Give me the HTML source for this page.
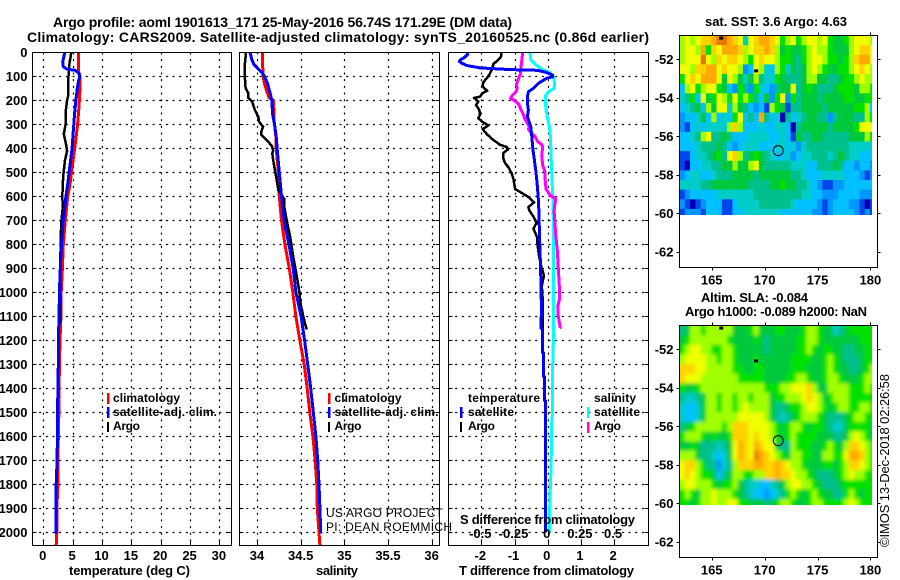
<!DOCTYPE html>
<html>
<head>
<meta charset="utf-8">
<title>Argo profile</title>
<style>
html,body{margin:0;padding:0;background:#fff;}
svg{display:block;}
text{font-family:"Liberation Sans",sans-serif;fill:#000;}
.b{font-weight:bold;font-size:13px;}
.l{font-weight:bold;font-size:12px;}
.t{font-size:12px;font-weight:normal;}
</style>
</head>
<body>
<svg id="chart" width="900" height="580" viewBox="0 0 900 580" xmlns="http://www.w3.org/2000/svg">
<defs>
<clipPath id="clip-sla"><rect x="680" y="326" width="192" height="179"/></clipPath>
<clipPath id="clip-sst"><rect x="680" y="36" width="192" height="179"/></clipPath>
<filter id="soft" filterUnits="userSpaceOnUse" x="650" y="300" width="250" height="230"><feGaussianBlur stdDeviation="1.8"/></filter>
</defs>
<rect x="0" y="0" width="900" height="580" fill="#fff"/>
<g id="grids"></g>
<g id="series"></g>
<g id="maps"></g>
<g id="frames"></g>
<g id="labels"></g>

<text class="b" x="53" y="27" textLength="459" lengthAdjust="spacing" style="font-size:14px">Argo profile: aoml 1901613_171 25-May-2016 56.74S 171.29E (DM data)</text>
<text class="b" x="27" y="42" textLength="622" lengthAdjust="spacing" style="font-size:14px">Climatology: CARS2009. Satellite-adjusted climatology: synTS_20160525.nc (0.86d earlier)</text>

<text class="b" x="69" y="575" textLength="121" lengthAdjust="spacing">temperature (deg C)</text>
<text class="b" x="316" y="575" textLength="42" lengthAdjust="spacing">salinity</text>
<text class="b" x="459" y="575" textLength="175" lengthAdjust="spacing">T difference from climatology</text>
<text class="b" x="460" y="524" textLength="175" lengthAdjust="spacing">S difference from climatology</text>

<g>
<rect x="107" y="393" width="2.5" height="11" fill="#f00"/>
<rect x="107" y="407" width="2.5" height="11" fill="#00f"/>
<rect x="107" y="422" width="2" height="10" fill="#000"/>
<text class="l" x="113" y="402" textLength="67" lengthAdjust="spacing">climatology</text>
<text class="l" x="113" y="416" textLength="104" lengthAdjust="spacing">satellite-adj. clim.</text>
<text class="l" x="113" y="430" textLength="27" lengthAdjust="spacing">Argo</text>
</g>
<g>
<rect x="328" y="393" width="2.5" height="11" fill="#f00"/>
<rect x="328" y="407" width="2.5" height="11" fill="#00f"/>
<rect x="328" y="422" width="2" height="10" fill="#000"/>
<text class="l" x="334.5" y="402" textLength="67" lengthAdjust="spacing">climatology</text>
<text class="l" x="334.5" y="416" textLength="104" lengthAdjust="spacing">satellite-adj. clim.</text>
<text class="l" x="334.5" y="430" textLength="27" lengthAdjust="spacing">Argo</text>
</g>
<g>
<text class="l" x="468" y="402" textLength="72" lengthAdjust="spacing">temperature</text>
<rect x="460" y="407" width="2.5" height="11" fill="#00f"/>
<text class="l" x="468" y="416" textLength="46" lengthAdjust="spacing">satellite</text>
<rect x="460" y="422" width="2" height="10" fill="#000"/>
<text class="l" x="468" y="430" textLength="27" lengthAdjust="spacing">Argo</text>
<text class="l" x="594" y="402" textLength="42" lengthAdjust="spacing">salinity</text>
<rect x="587" y="407" width="2.5" height="11" fill="#0ff"/>
<text class="l" x="594" y="416" textLength="46" lengthAdjust="spacing">satellite</text>
<rect x="587" y="422" width="2.5" height="11" fill="#f0f"/>
<text class="l" x="594" y="430" textLength="27" lengthAdjust="spacing">Argo</text>
</g>

<text class="t" x="326" y="517" textLength="117" lengthAdjust="spacing">US ARGO PROJECT</text>
<text class="t" x="326" y="531" textLength="126" lengthAdjust="spacing">PI: DEAN ROEMMICH</text>

<text class="b" x="705" y="26" textLength="142" lengthAdjust="spacing">sat. SST: 3.6 Argo: 4.63</text>
<text class="b" x="701" y="302" textLength="107" lengthAdjust="spacing">Altim. SLA: -0.084</text>
<text class="b" x="685" y="316" textLength="182" lengthAdjust="spacing">Argo h1000: -0.089 h2000: NaN</text>
<text class="t" style="font-size:13px" transform="translate(889,547) rotate(-90)" textLength="173" lengthAdjust="spacing">©IMOS 13-Dec-2018 02:26:58</text>
</svg>

<script>
// ---------- axis ticks ----------
const depthTicks = [0,100,200,300,400,500,600,700,800,900,1000,1100,1200,1300,1400,1500,1600,1700,1800,1900,2000];
const tempTicks = [0,5,10,15,20,25,30];
const salTicks = [34,34.5,35,35.5,36];
const salTickLabels = ["34","34.5","35","35.5","36"];
const tDiffTicks = [-2,-1,0,1,2];
const sDiffTicks = [-0.5,-0.25,0,0.25,0.5];
const sDiffTickLabels = ["-0.5","-0.25","0","0.25","0.5"];
const lonTicks = [165,170,175,180];
const latTicks = [-52,-54,-56,-58,-60,-62];

// ---------- temperature profiles: [depth, deg C] ----------
const tempClim = [[0,6.0],[80,6.0],[100,6.25],[150,6.25],[220,6.1],[300,5.85],[350,5.6],[400,5.35],[500,4.8],[550,4.55],[600,4.15],[700,3.75],[800,3.4],[900,3.25],[1000,3.05],[1100,3.0],[1200,2.85],[1300,2.75],[1400,2.7],[1500,2.65],[1600,2.55],[1700,2.5],[1800,2.5],[1900,2.3],[2000,2.3],[2055,2.2]];
const tempArgo = [[0,4.75],[20,4.65],[40,4.5],[70,4.35],[100,4.3],[150,4.2],[175,4.3],[200,4.05],[250,3.8],[300,3.8],[340,3.5],[380,3.85],[410,4.05],[450,3.7],[500,3.45],[550,3.3],[600,3.25],[650,3.3],[700,3.1],[750,3.0],[800,2.95],[1000,2.85],[1100,2.9],[1125,2.9]];
const tempSat = [[0,3.65],[20,3.5],[40,3.3],[60,3.4],[70,4.0],[75,5.4],[85,6.0],[100,6.2],[120,6.0],[150,5.8],[200,5.55],[250,5.35],[300,5.2],[350,5.05],[400,4.9],[450,4.65],[500,4.4],[550,4.15],[600,3.85],[650,3.65],[700,3.4],[800,3.1],[900,2.9],[1000,2.75],[1100,2.7],[1200,2.55],[1300,2.55],[1400,2.5],[1500,2.4],[1600,2.4],[1700,2.35],[1800,2.2],[1900,2.15],[2005,2.15]];

// ---------- salinity profiles: [depth, psu] ----------
const salClim = [[0,34.065],[60,34.065],[100,34.07],[130,34.085],[160,34.11],[190,34.14],[200,34.19],[280,34.195],[350,34.215],[400,34.22],[500,34.245],[600,34.255],[700,34.28],[800,34.32],[900,34.37],[1000,34.41],[1100,34.445],[1200,34.49],[1300,34.54],[1400,34.575],[1500,34.605],[1600,34.64],[1700,34.665],[1800,34.685],[1900,34.69],[2000,34.71],[2055,34.72]];
const salArgo = [[0,33.875],[50,33.86],[100,33.86],[150,33.87],[170,33.9],[190,33.9],[205,33.945],[240,33.975],[270,34.015],[290,34.025],[310,34.07],[330,34.05],[345,34.05],[365,34.11],[390,34.17],[410,34.185],[420,34.175],[450,34.185],[490,34.205],[530,34.225],[575,34.245],[610,34.31],[640,34.31],[700,34.34],[770,34.38],[850,34.415],[930,34.455],[1000,34.485],[1050,34.5],[1100,34.53],[1130,34.55],[1155,34.57]];
const salSat = [[0,33.92],[30,33.94],[50,33.965],[70,34.015],[85,34.06],[100,34.085],[130,34.12],[170,34.15],[200,34.17],[260,34.18],[300,34.2],[350,34.22],[400,34.23],[500,34.255],[600,34.28],[700,34.31],[800,34.365],[900,34.415],[1000,34.445],[1100,34.505],[1200,34.545],[1300,34.58],[1400,34.615],[1500,34.645],[1600,34.675],[1700,34.695],[1800,34.71],[1900,34.72],[2005,34.73]];

// ---------- difference profiles: [depth, difference] ----------
const diffTArgo = [[0,-1.39],[20,-1.41],[35,-1.52],[50,-1.64],[75,-1.69],[100,-1.79],[125,-1.94],[140,-1.96],[150,-1.91],[160,-1.82],[170,-1.96],[185,-2.04],[190,-2.22],[205,-2.09],[220,-2.16],[240,-2.06],[260,-2.04],[275,-2.09],[290,-1.96],[305,-1.79],[320,-1.96],[340,-1.84],[360,-1.69],[385,-1.44],[395,-1.23],[405,-1.2],[420,-1.34],[440,-1.34],[460,-1.29],[480,-1.18],[505,-1.08],[530,-1.03],[570,-0.98],[600,-0.61],[625,-0.41],[645,-0.58],[660,-0.55],[685,-0.43],[710,-0.33],[735,-0.43],[750,-0.38],[775,-0.31],[800,-0.31],[850,-0.26],[900,-0.18],[930,-0.11],[955,-0.15],[975,-0.18],[1000,-0.16],[1050,-0.15],[1149,-0.15]];
const diffTSat = [[0,-2.41],[10,-2.42],[20,-2.49],[32,-2.64],[38,-2.66],[45,-2.59],[55,-2.44],[65,-2.04],[72,-1.13],[75,-0.33],[82,-0.08],[90,0.07],[95,0.15],[102,0.15],[108,-0.03],[129,-0.28],[150,-0.43],[164,-0.58],[185,-0.61],[212,-0.61],[240,-0.58],[268,-0.61],[310,-0.51],[351,-0.48],[400,-0.45],[449,-0.4],[504,-0.35],[560,-0.31],[615,-0.28],[685,-0.26],[754,-0.25],[837,-0.23],[921,-0.21],[1060,-0.19],[1150,-0.2],[1151,-0.16],[1250,-0.16],[1251,-0.13],[1350,-0.13],[1351,-0.1],[1450,-0.1],[1451,-0.07],[2000,-0.07]];
const diffSSat = [[0,-0.133],[30,-0.128],[50,-0.095],[70,-0.045],[85,0.018],[100,0.043],[130,0.053],[150,0.048],[165,0.005],[180,-0.015],[205,-0.018],[240,-0.013],[270,-0.003],[310,0.013],[350,0.02],[420,0.025],[500,0.03],[600,0.038],[700,0.043],[800,0.045],[1100,0.045],[1200,0.043],[1300,0.038],[1500,0.038],[1540,0.03],[1650,0.03],[1700,0.025],[1750,0.025],[1800,0.02],[1900,0.015],[2000,0.015]];
const diffSArgo = [[0,-0.188],[30,-0.194],[60,-0.2],[90,-0.205],[110,-0.22],[135,-0.235],[150,-0.23],[165,-0.239],[178,-0.264],[192,-0.279],[200,-0.254],[215,-0.22],[240,-0.2],[260,-0.183],[280,-0.17],[295,-0.153],[310,-0.138],[320,-0.145],[335,-0.128],[350,-0.095],[370,-0.078],[385,-0.045],[395,-0.038],[430,-0.045],[470,-0.038],[500,-0.02],[540,-0.018],[570,-0.013],[595,0.018],[610,0.06],[630,0.055],[660,0.048],[700,0.053],[760,0.06],[830,0.073],[900,0.08],[980,0.088],[1030,0.088],[1060,0.075],[1100,0.08],[1145,0.093],[1150,0.088]];

// ---------- maps: colour level per 0.5 deg cell, north to south ----------
const sstLevels = [
[8,9,8,9,10,10,11,12,12,11,10,9,4,9,10,11,11,10,9,7,8,9,7,8,9,9,8,9,7,6,6,7,8,9,9,9,8],
[8,9,9,8,11,7,10,9,11,11,11,10,8,9,10,10,11,10,8,6,7,6,6,7,8,9,8,8,7,6,6,6,8,9,10,10,9],
[8,9,9,9,12,9,8,10,9,10,10,9,8,7,9,10,9,9,8,7,7,6,5,7,8,9,9,8,7,7,6,7,8,10,11,11,9],
[9,9,8,10,10,11,11,9,10,9,9,8,2,3,9,8,4,3,8,7,4,6,5,6,8,9,8,7,6,6,7,7,8,9,10,9,8],
[7,9,10,9,11,11,11,9,6,9,8,6,4,6,8,5,4,4,7,6,5,5,5,6,8,8,6,6,5,5,6,7,7,8,9,8,8],
[3,8,9,7,8,9,9,7,6,3,2,7,5,2,7,4,3,2,5,6,6,9,5,6,7,6,5,5,5,6,7,7,7,6,8,8,7],
[4,5,7,3,9,6,7,9,8,7,9,7,8,7,5,3,6,2,7,9,2,7,5,6,6,6,5,6,6,6,6,7,7,6,6,7,7],
[3,4,5,6,3,8,6,9,9,4,8,6,5,3,2,3,1,8,7,6,1,5,5,6,6,6,6,5,6,6,6,6,6,7,7,8,3],
[2,3,3,4,6,3,8,3,4,3,7,9,3,5,3,11,5,3,4,0,5,3,4,5,6,6,5,5,2,5,6,6,6,5,5,8,7],
[2,1,3,4,3,4,4,4,4,8,10,8,3,3,3,4,3,3,4,4,3,0,5,6,6,6,6,6,5,6,6,6,6,7,9,9,9],
[3,3,4,5,8,9,5,5,6,5,3,3,3,4,4,4,4,3,3,4,3,1,6,5,5,6,6,5,5,5,5,5,6,6,6,8,7],
[3,3,3,4,5,5,5,6,5,3,2,3,4,4,4,3,3,3,4,4,3,4,2,4,5,5,5,5,5,5,5,5,4,4,4,4,4],
[1,1,3,4,4,5,6,7,5,9,10,8,5,6,7,6,5,4,3,3,4,2,3,4,4,5,5,5,4,5,6,5,4,4,3,3,3],
[1,0,3,3,4,4,5,5,6,6,8,6,6,8,9,6,5,5,5,5,5,4,4,4,3,3,5,5,5,6,5,3,3,2,3,3,2],
[2,3,4,4,3,3,4,5,5,5,6,6,6,6,5,6,6,6,6,6,6,5,5,4,3,3,3,4,4,4,4,3,3,3,2,1,2],
[4,4,4,4,5,5,6,6,6,6,6,6,6,5,5,5,5,6,6,7,6,6,5,5,4,3,2,1,1,2,2,3,3,3,3,3,3],
[1,2,3,3,3,3,3,4,4,4,4,4,4,4,5,5,5,5,5,5,5,5,5,4,4,3,3,2,2,2,3,3,3,3,2,2,2],
[2,1,0,1,2,3,3,3,1,1,3,4,4,4,4,5,5,5,5,5,5,4,3,3,3,3,2,1,2,3,3,3,2,2,1,0,1],
[1,2,2,2,1,3,3,3,1,1,3,3,4,4,4,4,4,4,4,3,3,3,3,3,3,2,2,1,2,3,3,3,3,2,1,2,1]
];
const slaLevels = [
[5,6,8,8,7,8,8,8,8,8,6,6,6,7,8,6,6,6,7,7,6,6,6,7,8,8,7,6,6,4,5,6,7,7,7,7,7],
[6,7,8,8,8,8,8,8,8,7,6,6,6,6,7,6,5,6,6,6,6,6,7,7,8,8,7,6,6,6,6,6,6,6,7,7,7],
[7,8,9,9,8,8,7,7,8,8,7,6,6,6,6,6,5,6,6,6,6,6,7,7,8,7,6,7,7,6,6,5,5,6,6,7,7],
[8,9,9,9,9,8,8,7,8,8,7,6,6,6,7,6,6,6,6,6,6,7,7,7,7,6,6,7,8,7,6,5,5,5,6,7,7],
[10,10,10,9,9,8,8,8,8,8,7,7,6,6,7,7,6,6,6,6,6,7,7,7,6,6,6,7,8,7,6,6,5,5,6,7,8],
[10,9,9,9,8,8,8,8,8,8,8,7,7,7,7,7,6,6,6,6,7,7,8,8,7,6,6,7,8,8,7,6,6,6,7,8,8],
[7,6,6,7,8,8,8,8,8,8,8,8,8,8,8,8,7,7,7,8,8,9,9,9,10,8,6,6,8,8,8,8,7,7,7,8,7],
[5,4,4,5,6,8,8,7,8,8,7,8,8,7,8,8,8,6,7,7,8,8,8,9,10,9,8,6,7,8,8,8,7,7,7,7,7],
[4,3,3,4,6,8,8,7,8,8,7,8,9,8,8,8,8,6,5,5,6,7,7,8,9,9,8,7,6,7,8,8,7,7,8,8,7],
[4,3,3,4,6,8,8,8,8,8,8,9,9,9,9,9,8,6,5,4,5,6,7,8,8,8,7,6,5,5,5,6,7,8,8,7,7],
[5,6,7,8,8,8,8,8,7,8,10,10,10,9,9,9,9,8,7,6,7,8,8,7,6,7,7,6,5,4,4,6,7,7,7,7,6],
[7,8,8,8,7,6,7,6,6,7,10,10,10,9,10,9,9,8,7,6,7,8,7,7,7,7,6,6,6,5,5,6,8,9,8,7,6],
[6,6,7,6,5,5,5,4,5,6,9,11,10,9,11,10,9,9,6,5,5,8,7,7,7,6,6,7,8,7,6,8,10,10,9,8,7],
[8,8,8,6,5,5,4,3,4,6,9,11,10,9,12,11,10,9,8,7,6,8,8,7,7,6,6,8,8,7,7,9,11,11,10,8,7],
[9,10,10,8,7,5,5,2,4,5,8,10,10,10,11,11,10,10,11,10,9,8,8,7,6,6,6,7,7,6,7,8,10,10,9,8,7],
[9,10,9,8,7,7,6,3,5,6,8,8,7,7,8,8,10,10,11,10,10,9,8,8,7,6,5,5,5,6,7,8,9,8,8,7,7],
[8,9,9,8,8,8,7,6,7,7,8,6,5,4,4,3,3,4,5,6,8,9,9,8,8,7,6,5,5,5,6,7,7,7,7,7,7],
[7,8,7,6,8,8,9,8,8,8,7,6,5,4,3,3,2,3,4,5,7,8,7,6,7,8,7,6,6,5,5,7,8,7,6,7,7],
[7,7,6,7,8,8,9,8,8,9,9,7,7,6,6,6,5,6,7,8,8,7,6,6,7,8,8,7,7,7,7,8,9,8,7,7,7]
];
const profileLon = [171.29];
const profileLat = [-56.74];
const floatLons = [165.9, 169.2];
const floatLats = [-50.9, -52.6];

const levelColors = ["#0000b4","#0046eb","#0096ff","#00c0ff","#00ccc8","#00c08c","#00c83c","#00e100","#a0ff00","#f0ff00","#ffd200","#ffaa00","#e67800"];
const NS = "http://www.w3.org/2000/svg";

// ---------- axis functions ----------
const yDepth = d => 52.3 + 0.24 * d;
const xTemp = v => 43.3 + 5.87 * v;
const xSal = v => 257 + 87.33 * (v - 34);
const xTDiff = v => 547.7 + 33.2 * v;
const xSDiff = v => 547.7 + 132.8 * v;
const xLon = v => 711.7 + 10.58 * (v - 165);
const ySst = v => 59.3 + 19.27 * (-52 - v);
const ySla = v => 349.3 + 19.27 * (-52 - v);

function make(tag, attrs, parent, text) {
  const el = document.createElementNS(NS, tag);
  for (const k in attrs) el.setAttribute(k, attrs[k]);
  if (text !== undefined) el.textContent = text;
  parent.appendChild(el);
  return el;
}

const grids = document.getElementById('grids');
const seriesG = document.getElementById('series');
const maps = document.getElementById('maps');
const frames = document.getElementById('frames');
const labels = document.getElementById('labels');

// ---------- profile panels ----------
const panels = [
  {name:'temperature', l:32.5, r:231.5, xs:tempTicks.map(xTemp)},
  {name:'salinity', l:239.5, r:439.5, xs:salTicks.map(xSal)},
  {name:'difference', l:448.5, r:648.5, xs:tDiffTicks.map(xTDiff)}
];
const panelTop = 52.5, panelBottom = 545.5;

panels.forEach(function (p) {
  depthTicks.forEach(function (d) {
    const y = Math.round(yDepth(d)) + 0.5;
    if (d > 0) {
      const g = make('line', {x1:p.l, x2:p.r, y1:y, y2:y, stroke:'#000', 'stroke-width':1.2, 'stroke-dasharray':'2 4.67'}, grids);
      
      
    }
    const t1 = make('line', {x1:p.l, x2:p.l + 4, y1:y, y2:y, stroke:'#000'}, frames);
    
    
    const t2 = make('line', {x1:p.r - 4, x2:p.r, y1:y, y2:y, stroke:'#000'}, frames);
    
    
  });
  p.xs.forEach(function (xv) {
    const x = Math.round(xv) + 0.5;
    const g = make('line', {x1:x, x2:x, y1:panelTop, y2:panelBottom, stroke:'#000', 'stroke-width':1.2, 'stroke-dasharray':'2 4.67'}, grids);
    
    
    const t = make('line', {x1:x, x2:x, y1:panelBottom - 4, y2:panelBottom, stroke:'#000'}, frames);
    
    
  });
  const f = make('rect', {x:p.l, y:panelTop, width:p.r - p.l, height:panelBottom - panelTop, fill:'none', stroke:'#000', 'stroke-width':1}, frames);
  
  
});

function drawProfile(pairs, xFn, color, width, name) {
  const pts = pairs.map(function (q) { return xFn(q[1]).toFixed(1) + ',' + yDepth(q[0]).toFixed(1); }).join(' ');
  const line = make('polyline', {points:pts, fill:'none', stroke:color, 'stroke-width':width, 'stroke-linejoin':'round', 'shape-rendering':'crispEdges'}, seriesG);
  
  
}
drawProfile(tempClim, xTemp, '#f00', 3, 'temperature-climatology-line');
drawProfile(tempArgo, xTemp, '#000', 2.5, 'temperature-argo-line');
drawProfile(tempSat, xTemp, '#00f', 3, 'temperature-satellite-line');
drawProfile(salClim, xSal, '#f00', 3, 'salinity-climatology-line');
drawProfile(salArgo, xSal, '#000', 2.5, 'salinity-argo-line');
drawProfile(salSat, xSal, '#00f', 3, 'salinity-satellite-line');
drawProfile(diffTArgo, xTDiff, '#000', 2.5, 't-difference-argo-line');
drawProfile(diffSSat, xSDiff, '#0ff', 3, 's-difference-satellite-line');
drawProfile(diffSArgo, xSDiff, '#f0f', 3, 's-difference-argo-line');
drawProfile(diffTSat, xTDiff, '#00f', 3, 't-difference-satellite-line');

// ---------- tick labels ----------
function label(x, y, anchor, str, name) {
  const t = make('text', {x:x, y:y, 'text-anchor':anchor, 'class':'b'}, labels, str);
  
  
}
depthTicks.forEach(function (d) { label(27.5, yDepth(d) + 4.5, 'end', String(d), 'depth-tick-label'); });
tempTicks.forEach(function (v) { label(xTemp(v) - 0.5, 560, 'middle', String(v), 'temperature-tick-label'); });
salTicks.forEach(function (v, i) { label(xSal(v), 560, 'middle', salTickLabels[i], 'salinity-tick-label'); });
tDiffTicks.forEach(function (v) { label(xTDiff(v) - 1, 560, 'middle', String(v), 't-difference-tick-label'); });
sDiffTicks.forEach(function (v, i) { label(xSDiff(v) - 1, 538, 'middle', sDiffTickLabels[i], 's-difference-tick-label'); });

// ---------- maps ----------
const mapLeft = 679.5, mapRight = 877.5, cellW = 5.29, cellH = 9.635;

function drawGrid(levels, top, parent, bleed, name) {
  levels.forEach(function (row, j) {
    row.forEach(function (level, i) {
      let x = mapLeft + i * cellW, y = top + j * cellH, w = cellW + 0.3, h = cellH + 0.3;
      if (bleed) {
        if (i === 0) { x -= 8; w += 8; }
        if (i === row.length - 1) { w += 8; }
        if (j === 0) { y -= 8; h += 8; }
        if (j === levels.length - 1) { h += 8; }
      }
      const c = make('rect', {x:x.toFixed(2), y:y.toFixed(2), width:w.toFixed(2), height:h.toFixed(2), fill:levelColors[level]}, parent);
      
      
    });
  });
}

function drawMapFrame(top, bottom, yFn, name) {
  lonTicks.forEach(function (lon) {
    const x = Math.round(xLon(lon)) + 0.5;
    const a = make('line', {x1:x, x2:x, y1:top - 3, y2:top, stroke:'#000'}, frames);
    
    
    const b = make('line', {x1:x, x2:x, y1:bottom, y2:bottom + 3, stroke:'#000'}, frames);
    
    
    label(xLon(lon), bottom + 17, 'middle', String(lon), 'longitude-tick-label');
  });
  latTicks.forEach(function (lat) {
    const y = Math.round(yFn(lat)) + 0.5;
    const a = make('line', {x1:mapLeft - 3, x2:mapLeft, y1:y, y2:y, stroke:'#000'}, frames);
    
    
    const b = make('line', {x1:mapRight, x2:mapRight + 3, y1:y, y2:y, stroke:'#000'}, frames);
    
    
    label(673.5, yFn(lat) + 4.5, 'end', String(lat), 'latitude-tick-label');
  });
  const f = make('rect', {x:mapLeft, y:top, width:mapRight - mapLeft, height:bottom - top, fill:'none', stroke:'#000'}, frames);
  
  
}

function drawMarkers(yFn, suffix) {
  floatLons.forEach(function (lon, i) {
    const d = make('rect', {x:xLon(lon) - 2, y:yFn(floatLats[i]) - 1.5, width:4, height:3, fill:'#000'}, frames);
    
    
  });
  const c = make('circle', {cx:xLon(profileLon[0]), cy:yFn(profileLat[0]), r:5, fill:'none', stroke:'#000', 'stroke-width':1}, frames);
  
  
}

const sstGroup = make('g', {'clip-path':'url(#clip-sst)'}, maps);


drawGrid(sstLevels, 35.5, sstGroup, false, 'sst-cell');

const slaClip = make('g', {'clip-path':'url(#clip-sla)'}, maps);


const slaInner = make('g', {filter:'url(#soft)'}, slaClip);


drawGrid(slaLevels, 325.5, slaInner, true, 'sla-cell');

drawMapFrame(35.5, 267.5, ySst, 'sst-map-frame');
drawMapFrame(325.5, 557.5, ySla, 'sla-map-frame');
drawMarkers(ySst, 'sst');
drawMarkers(ySla, 'sla');
</script>
</body>
</html>
